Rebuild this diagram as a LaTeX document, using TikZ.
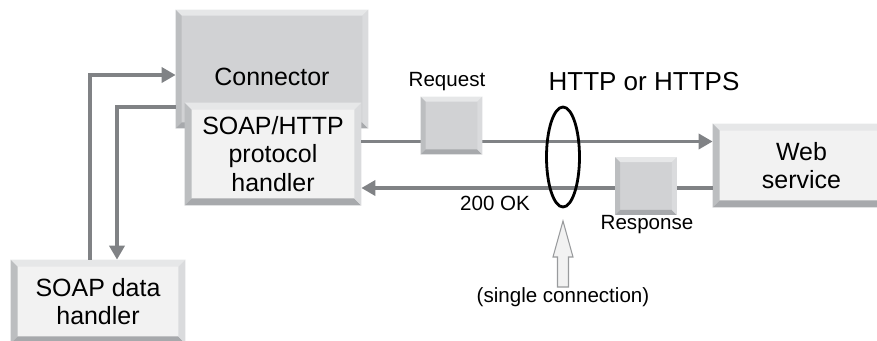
\documentclass[tikz,border=0pt]{standalone}
\usepackage{fontspec}
\setmainfont{Liberation Sans}
\usetikzlibrary{arrows.meta,shapes.geometric}
\definecolor{linegray}{RGB}{128,130,133}
\definecolor{facegray}{RGB}{209,210,212}
\definecolor{facewhite}{RGB}{242,242,242}
\definecolor{bevtop}{RGB}{230,231,232}
\definecolor{bevleft}{RGB}{188,190,192}
\definecolor{bevbottom}{RGB}{167,169,172}
\definecolor{bevright}{RGB}{218,219,221}
\tikzset{
	box/.style={inner sep=0pt, align=center, font=\fontsize{14.2pt}{16.2pt}\selectfont},
	small/.style={inner sep=0pt, font=\fontsize{11.7pt}{14pt}\selectfont},
	conn/.style={linegray, line width=2pt, -{Triangle[length=0.28cm,width=0.3cm]}},
}
\newcommand{\bevel}[2]{
	\fill[bevtop] (#1.north west) -- (#1.north east) -- ([shift={(-#2,-#2)}]#1.north east) -- ([shift={(#2,-#2)}]#1.north west) -- cycle;
	\fill[bevleft] (#1.north west) -- ([shift={(#2,-#2)}]#1.north west) -- ([shift={(#2,#2)}]#1.south west) -- (#1.south west) -- cycle;
	\fill[bevbottom] (#1.south west) -- ([shift={(#2,#2)}]#1.south west) -- ([shift={(-#2,#2)}]#1.south east) -- (#1.south east) -- cycle;
	\fill[bevright] (#1.south east) -- ([shift={(-#2,#2)}]#1.south east) -- ([shift={(-#2,-#2)}]#1.north east) -- (#1.north east) -- cycle;
}
\begin{document}
\begin{tikzpicture}
	\useasboundingbox (0,0) rectangle (17.54,6.8);
	\node (conn) at (5.44,5.42) [box, fill=facegray, minimum width=3.84cm, minimum height=2.36cm, label={[box, yshift=-0.16cm]center:Connector}] {};
	\bevel{conn}{0.12}
	\node (proto) at (5.46,3.72) [box, fill=facewhite, minimum width=3.52cm, minimum height=2.04cm] {SOAP/HTTP\\protocol\\handler};
	\bevel{proto}{0.14}
	\node (web) at (16.03,3.49) [box, fill=facewhite, minimum width=3.54cm, minimum height=1.66cm] {Web\\service};
	\bevel{web}{0.14}
	\node (soap) at (1.96,0.77) [box, fill=facewhite, minimum width=3.48cm, minimum height=1.66cm] {SOAP data\\handler};
	\bevel{soap}{0.14}
	\draw[conn] ([xshift=-0.16cm]soap.north) |- ([yshift=-0.12cm]conn.west);
	\draw[conn] ([yshift=-0.76cm]conn.west) -| ([xshift=0.38cm]soap.north);
	\draw[conn] ([yshift=0.25cm]proto.east) -- ([yshift=0.25cm]proto.east -| web.west);
	\draw[conn] ([yshift=-0.45cm]web.west) -- ([yshift=-0.45cm]web.west -| proto.east);
	\node (req) at (9.03,4.29) [fill=facegray, minimum width=1.22cm, minimum height=1.14cm, inner sep=0pt] {};
	\bevel{req}{0.1}
	\node (resp) at (12.92,3.08) [fill=facegray, minimum width=1.22cm, minimum height=1.14cm, inner sep=0pt] {};
	\bevel{resp}{0.1}
	\node (link) at (11.26,3.66) [draw, ellipse, line width=1.6pt, minimum width=0.66cm, minimum height=2cm, inner sep=0pt] {};
	\draw[fill=facewhite, draw=linegray!80, line width=0.6pt] (11.26,2.38) -- (11.46,1.66) -- (11.37,1.66) -- (11.37,1.06) -- (11.15,1.06) -- (11.15,1.66) -- (11.06,1.66) -- cycle;
	\node (reqlabel) at (8.94,5.16) [small] {Request};
	\node (resplabel) at (12.94,2.30) [small] {Response};
	\node (oklabel) at (9.90,2.73) [small] {200 OK};
	\node (single) at (11.26,0.86) [small] {(single connection)};
	\node (http) at (12.88,5.16) [inner sep=0pt, font=\fontsize{14.8pt}{17pt}\selectfont] {HTTP or HTTPS};
\end{tikzpicture}
\end{document}
